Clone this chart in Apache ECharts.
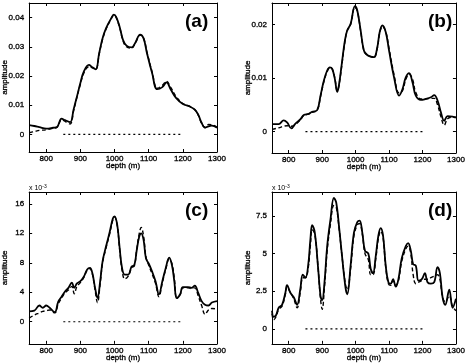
<!DOCTYPE html>
<head>
    <title>ECharts</title>
    <meta charset="UTF-8">
    <style>
        html, body { margin: 0; padding: 0; background: #fff; }
    </style>
</head>
<body>
    <div id="main" style="width:468px;height:363px;"></div>

    <script src="https://cdn.jsdelivr.net/npm/echarts@6/dist/echarts.min.js"></script>
    <script type="text/javascript">
    // depth ticks shared by all four panels
    var depthTicks = [800, 900, 1000, 1100, 1200, 1300];
    // dotted reference line along zero
    var baseDepth = [850, 1200];
    var baseAmp = [0, 0];

    // panel (a)
    var depthA = [750,765,780,800,820,832,845,855,870,880,890,900,910,925,935,945,955,965,975,990,998,1005,1015,1025,1035,1050,1060,1075,1085,1095,1110,1125,1140,1152,1165,1180,1200,1220,1235,1245,1255,1265,1275,1285,1300];
    var solidA = [0.0032,0.0029,0.0025,0.0020,0.0023,0.0026,0.0054,0.0049,0.0042,0.0085,0.0130,0.0176,0.0215,0.0238,0.0230,0.0223,0.0278,0.0329,0.0363,0.0397,0.0410,0.0402,0.0368,0.0323,0.0304,0.0298,0.0312,0.0342,0.0329,0.0278,0.0210,0.0155,0.0162,0.0178,0.0153,0.0125,0.0104,0.0096,0.0085,0.0068,0.0040,0.0023,0.0028,0.0030,0.0023];
    var dashedA = [0.0006,0.0010,0.0014,0.0016,0.0021,0.0025,0.0050,0.0045,0.0036,0.0080,0.0128,0.0172,0.0210,0.0232,0.0228,0.0223,0.0275,0.0326,0.0360,0.0395,0.0408,0.0400,0.0366,0.0320,0.0300,0.0296,0.0311,0.0340,0.0330,0.0282,0.0214,0.0158,0.0168,0.0182,0.0160,0.0130,0.0106,0.0096,0.0085,0.0066,0.0038,0.0025,0.0034,0.0033,0.0025];
    var ticksA = [0, 0.01, 0.02, 0.03, 0.04];

    // panel (b)
    var depthB = [750,770,785,795,808,820,835,845,860,870,885,895,905,915,923,930,938,945,950,960,968,975,985,998,1005,1015,1025,1035,1045,1055,1065,1072,1080,1090,1100,1115,1130,1140,1150,1160,1170,1180,1195,1210,1225,1235,1245,1255,1265,1275,1290,1300];
    var solidB = [0.0014,0.0014,0.0021,0.0017,0.0006,0.0015,0.0023,0.0031,0.0033,0.0037,0.0040,0.0067,0.0095,0.0114,0.0120,0.0117,0.0098,0.0074,0.0086,0.0133,0.0170,0.0189,0.0201,0.0234,0.0226,0.0189,0.0151,0.0143,0.0140,0.0139,0.0158,0.0186,0.0198,0.0186,0.0151,0.0101,0.0067,0.0079,0.0101,0.0109,0.0092,0.0067,0.0059,0.0061,0.0064,0.0068,0.0058,0.0036,0.0020,0.0029,0.0028,0.0026];
    var dashedB = [0.0004,0.0007,0.0010,0.0011,0.0010,0.0013,0.0022,0.0030,0.0033,0.0036,0.0040,0.0065,0.0093,0.0112,0.0119,0.0117,0.0099,0.0076,0.0085,0.0130,0.0168,0.0188,0.0200,0.0232,0.0225,0.0188,0.0150,0.0142,0.0140,0.0138,0.0156,0.0184,0.0196,0.0187,0.0155,0.0106,0.0072,0.0076,0.0097,0.0107,0.0098,0.0073,0.0061,0.0061,0.0062,0.0062,0.0050,0.0028,0.0012,0.0024,0.0027,0.0027];
    var ticksB = [0, 0.01, 0.02];

    // panel (c), values x 10^-3
    var depthC = [750,765,780,790,800,810,825,835,845,855,865,875,882,890,900,910,920,928,935,943,950,958,965,975,985,995,1000,1008,1015,1022,1030,1040,1050,1058,1065,1072,1078,1085,1092,1100,1110,1120,1130,1140,1150,1160,1168,1175,1182,1192,1200,1215,1225,1235,1245,1255,1265,1275,1285,1300];
    var solidC = [1.4,1.5,2.2,1.9,2.2,1.9,1.3,2.7,3.4,4.1,4.6,5.3,4.6,5.2,5.5,6.1,7.1,7.3,6.6,4.6,3.2,5.5,8.2,10.2,12.0,14.0,14.3,13.1,10.0,7.3,6.4,6.4,7.5,7.7,9.7,11.5,12.0,11.1,8.6,7.9,6.8,5.5,3.7,5.5,7.3,8.7,7.7,5.5,3.2,3.7,4.7,4.7,4.6,4.9,3.9,2.8,2.3,2.2,2.6,2.8];
    var dashedC = [0.5,0.9,1.2,1.4,1.5,1.6,1.2,2.4,3.2,3.9,4.3,4.8,3.8,4.8,5.3,6.0,7.0,7.2,6.5,4.3,2.6,5.2,8.0,10.0,11.8,13.8,14.2,13.0,9.8,7.0,5.8,6.2,7.3,7.6,9.8,11.9,12.8,11.6,8.8,7.7,6.5,5.2,3.4,5.3,7.1,8.5,7.9,5.9,3.4,3.7,4.6,4.6,4.5,4.6,3.5,2.2,1.0,1.6,1.8,1.7];
    var ticksC = [0, 4, 8, 12, 16];

    // panel (d), values x 10^-3
    var depthD = [750,755,762,770,780,790,795,805,815,825,835,842,850,858,865,870,878,888,895,900,907,915,925,935,942,950,960,970,975,985,995,1005,1012,1020,1028,1038,1045,1052,1060,1068,1075,1082,1090,1098,1105,1112,1120,1128,1138,1150,1157,1165,1172,1180,1188,1198,1207,1215,1225,1235,1245,1252,1260,1268,1280,1290,1300];
    var solidD = [1.2,0.8,0.9,1.4,1.6,2.4,2.9,2.4,2.1,1.6,2.7,3.6,3.4,4.2,6.0,6.9,6.4,4.0,2.2,1.9,3.1,5.5,7.3,8.7,8.4,6.9,4.7,2.7,2.3,4.2,6.4,7.1,7.2,6.4,5.2,5.0,4.0,3.7,4.8,6.2,6.7,6.2,4.2,3.1,3.0,3.3,2.8,3.3,4.7,5.5,5.7,5.2,4.3,4.2,3.2,3.3,3.7,3.1,3.0,3.1,4.1,3.7,2.1,1.6,2.6,1.4,2.0];
    var dashedD = [1.0,0.6,0.8,1.3,1.5,2.3,2.8,2.4,2.0,1.4,2.5,3.4,3.4,4.0,5.6,6.6,6.3,4.0,2.0,1.3,2.8,5.2,7.0,8.2,8.1,6.8,4.7,2.9,2.6,4.0,6.2,6.9,7.0,6.3,5.0,4.6,3.6,3.6,4.6,6.0,6.5,6.1,4.1,3.0,2.9,3.2,2.9,3.2,4.5,5.3,5.5,5.0,3.6,3.0,3.1,3.2,3.3,3.3,3.4,3.5,3.6,3.3,2.1,1.8,2.2,1.5,1.2];
    var ticksD = [0, 2.5, 5, 7.5];

    var panels = [
        {tag: '(a)', grid: {left: 29, top: 3, width: 188, height: 149}, ymin: -0.006, ymax: 0.045, ticks: ticksA, depth: depthA, solid: solidA, dashed: dashedA, dec: 2},
        {tag: '(b)', grid: {left: 272, top: 3, width: 188, height: 150}, ymin: -0.004, ymax: 0.024, ticks: ticksB, depth: depthB, solid: solidB, dashed: dashedB, dec: 2},
        {tag: '(c)', grid: {left: 29, top: 192, width: 188, height: 152}, ymin: -3, ymax: 17.6, ticks: ticksC, depth: depthC, solid: solidC, dashed: dashedC, dec: 0, exp: true},
        {tag: '(d)', grid: {left: 272, top: 192, width: 188, height: 152}, ymin: -1, ymax: 9.1, ticks: ticksD, depth: depthD, solid: solidD, dashed: dashedD, dec: -1, exp: true}
    ];

    var font = 'Liberation Sans';
    // slightly heavier small text, like the scanned figure
    var txt = {fontFamily: font, fontSize: 8, color: '#000', textBorderColor: '#000', textBorderWidth: 0.3};
    var grids = [], xAxes = [], yAxes = [], series = [], graphics = [];

    function pairs(xs, ys) {
        var out = [];
        for (var i = 0; i < xs.length; i++) out.push([xs[i], ys[i]]);
        return out;
    }

    panels.forEach(function (p, i) {
        grids.push(p.grid);
        var line = {show: true, onZero: false, lineStyle: {color: '#000', width: 1}};
        // bottom and top depth axes
        xAxes.push({
            type: 'value', gridIndex: i, position: 'bottom', min: 750, max: 1300,
            name: 'depth (m)', nameLocation: 'middle', nameGap: 10, nameMoveOverlap: false,
            nameTextStyle: txt,
            axisLine: line,
            axisTick: {inside: true, length: 3, customValues: depthTicks, lineStyle: {color: '#000'}},
            axisLabel: Object.assign({customValues: depthTicks, margin: 3,
                formatter: function (v) { return String(v); }}, txt),
            splitLine: {show: false}
        });
        xAxes.push({
            type: 'value', gridIndex: i, position: 'top', min: 750, max: 1300,
            axisLine: line,
            axisTick: {inside: true, length: 3, customValues: depthTicks, lineStyle: {color: '#000'}},
            axisLabel: {show: false},
            splitLine: {show: false}
        });
        // left and right amplitude axes
        yAxes.push({
            type: 'value', gridIndex: i, position: 'left', min: p.ymin, max: p.ymax,
            name: 'amplitude', nameLocation: 'middle', nameGap: 20, nameMoveOverlap: false,
            nameTextStyle: txt,
            axisLine: line,
            axisTick: {inside: true, length: 3, customValues: p.ticks, lineStyle: {color: '#000'}},
            axisLabel: Object.assign({
                customValues: p.ticks, margin: 5,
                formatter: function (v) {
                    if (v === 0) return '0';
                    if (p.dec === 2) return v.toFixed(2);
                    return String(v);
                }
            }, txt),
            splitLine: {show: false}
        });
        yAxes.push({
            type: 'value', gridIndex: i, position: 'right', min: p.ymin, max: p.ymax,
            axisLine: line,
            axisTick: {inside: true, length: 3, customValues: p.ticks, lineStyle: {color: '#000'}},
            axisLabel: {show: false},
            splitLine: {show: false}
        });

        var xi = i * 2, yi = i * 2;
        series.push({
            type: 'line', xAxisIndex: xi, yAxisIndex: yi, data: pairs(p.depth, p.solid),
            showSymbol: false, smooth: 0.4, silent: true,
            lineStyle: {color: '#000', width: 1.8}
        });
        series.push({
            type: 'line', xAxisIndex: xi, yAxisIndex: yi, data: pairs(p.depth, p.dashed),
            showSymbol: false, smooth: 0.4, silent: true,
            lineStyle: {color: '#000', width: 1.4, type: [4, 2.5]}
        });
        series.push({
            type: 'line', xAxisIndex: xi, yAxisIndex: yi, data: pairs(baseDepth, baseAmp),
            showSymbol: false, silent: true,
            lineStyle: {color: '#000', width: 1.2, type: [2, 3]}
        });

        // panel tag
        graphics.push({
            type: 'text', left: p.grid.left + 156, top: p.grid.top + 9,
            style: {text: p.tag, font: 'bold 19px ' + font, fill: '#000'}
        });
        if (p.exp) {
            graphics.push({
                type: 'text', left: p.grid.left, top: p.grid.top - 8,
                style: {
                    text: '{a|x 10}{b|-3}',
                    rich: {
                        a: {fontFamily: font, fontSize: 7, fill: '#000', color: '#000'},
                        b: {fontFamily: font, fontSize: 5, fill: '#000', color: '#000', verticalAlign: 'top', padding: [0, 0, 4, 0]}
                    }
                }
            });
        }
    });

    var myChart = echarts.init(document.getElementById('main'));
    myChart.setOption({
        animation: false,
        backgroundColor: '#fff',
        grid: grids,
        xAxis: xAxes,
        yAxis: yAxes,
        series: series,
        graphic: graphics
    });
    </script>
</body>
